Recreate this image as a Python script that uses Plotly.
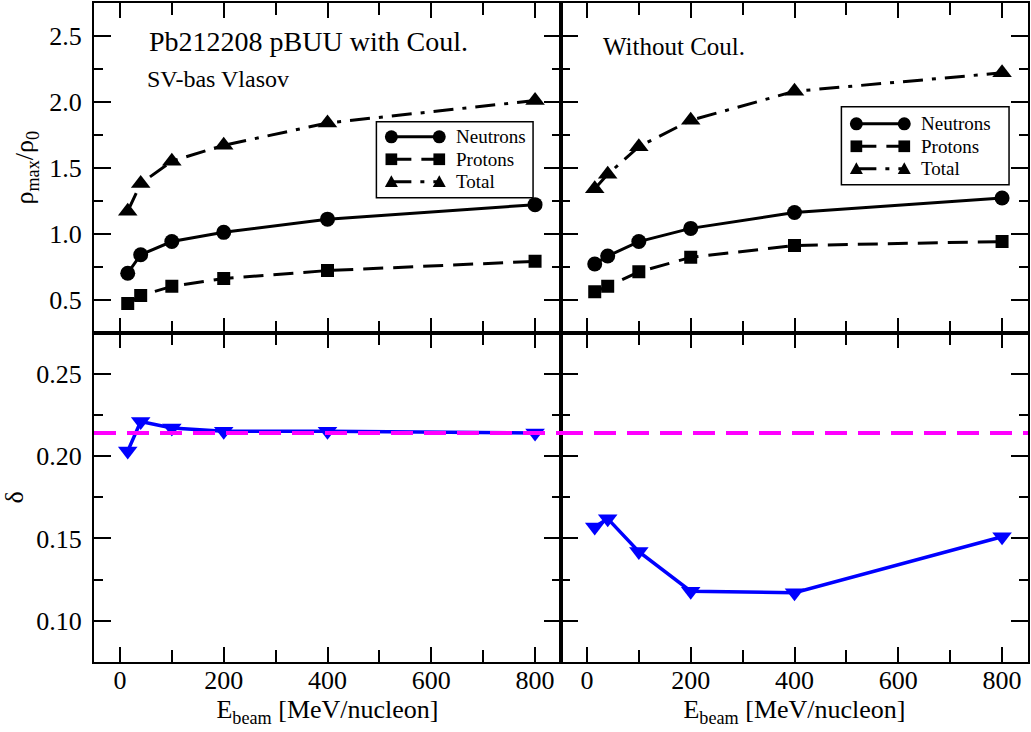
import plotly.graph_objects as go

# Beam energies [MeV/nucleon]
energy = [15, 40, 100, 200, 400, 800]

# Maximum density ratios, with Coulomb interaction
neutrons_coul = [0.70, 0.84, 0.94, 1.01, 1.11, 1.22]
protons_coul = [0.47, 0.53, 0.60, 0.66, 0.72, 0.79]
total_coul = [1.17, 1.38, 1.55, 1.67, 1.84, 2.01]

# Maximum density ratios, without Coulomb interaction
neutrons_nocoul = [0.77, 0.83, 0.94, 1.04, 1.16, 1.27]
protons_nocoul = [0.56, 0.60, 0.71, 0.82, 0.91, 0.94]
total_nocoul = [1.34, 1.45, 1.66, 1.86, 2.08, 2.22]

# Isospin asymmetry delta
delta_coul = [0.203, 0.221, 0.217, 0.215, 0.215, 0.214]
delta_nocoul = [0.157, 0.162, 0.142, 0.118, 0.117, 0.151]
delta_ref = 0.214

series_names = ["Neutrons", "Protons", "Total"]

FONT = "Liberation Serif"
W, H = 1031, 732
ML, MR, MT, MB = 94, 1, 2, 70
PW, PH = W - ML - MR, H - MT - MB

BLACK_DASH = {"Neutrons": "solid", "Protons": "20px,10px", "Total": "20px,9px,4px,9px"}
SYMBOL = {"Neutrons": "circle", "Protons": "square", "Total": "triangle-up"}
MSIZE = {"Neutrons": 15, "Protons": 13, "Total": 17}

fig = go.Figure()


def add_density(xa, ya, values):
    for name, vals in zip(series_names, values):
        fig.add_trace(go.Scatter(
            x=energy, y=vals, xaxis=xa, yaxis=ya, name=name, showlegend=False,
            mode="lines+markers",
            line=dict(color="black", width=3, dash=BLACK_DASH[name]),
            marker=dict(symbol=SYMBOL[name], size=MSIZE[name], color="black"),
        ))


def add_delta(xa, ya, vals):
    fig.add_trace(go.Scatter(
        x=energy, y=vals, xaxis=xa, yaxis=ya, showlegend=False,
        mode="lines+markers",
        line=dict(color="#0000ff", width=3.5),
        marker=dict(symbol="triangle-down", size=17, color="#0000ff"),
    ))


add_density("x", "y", [neutrons_coul, protons_coul, total_coul])
add_density("x2", "y2", [neutrons_nocoul, protons_nocoul, total_nocoul])
add_delta("x3", "y3", delta_coul)
add_delta("x4", "y4", delta_nocoul)

tickfont = dict(family=FONT, size=26, color="black")


def axis_style(**kw):
    d = dict(showline=True, linecolor="black", linewidth=2, mirror="allticks",
             ticks="inside", tickwidth=2, tickcolor="black",
             showgrid=False, zeroline=False, tickfont=tickfont)
    d.update(kw)
    return d


def xaxis(domain, anchor, labels):
    return axis_style(domain=domain, anchor=anchor, range=[-50, 850], dtick=200, tick0=0,
                      ticklen=15, showticklabels=labels, ticklabelstandoff=-6,
                      minor=dict(ticks="inside", ticklen=12, tickwidth=2,
                                 tickcolor="black", dtick=100, showgrid=False))


def yaxis(domain, anchor, rng, dtick, mdtick, fmt, labels):
    return axis_style(domain=domain, anchor=anchor, range=rng, dtick=dtick, tick0=0,
                      ticklen=17, showticklabels=labels, tickformat=fmt,
                      ticklabelstandoff=5,
                      minor=dict(ticks="inside", ticklen=9, tickwidth=2,
                                 tickcolor="black", dtick=mdtick, showgrid=False))


title_font = dict(family=FONT, size=26, color="black")

fig.update_layout(
    width=W, height=H,
    margin=dict(l=ML, r=MR, t=MT, b=MB),
    paper_bgcolor="white", plot_bgcolor="white",
    showlegend=False,
    xaxis=xaxis([0, 0.5], "y", False),
    xaxis2=xaxis([0.5, 1], "y2", False),
    xaxis3=xaxis([0, 0.5], "y3", True),
    xaxis4=xaxis([0.5, 1], "y4", True),
    yaxis=yaxis([0.5, 1], "x", [0.25, 2.75], 0.5, 0.25, ".1f", True),
    yaxis2=yaxis([0.5, 1], "x2", [0.25, 2.75], 0.5, 0.25, ".1f", False),
    yaxis3=yaxis([0, 0.5], "x3", [0.075, 0.275], 0.05, 0.025, ".2f", True),
    yaxis4=yaxis([0, 0.5], "x4", [0.075, 0.275], 0.05, 0.025, ".2f", False),
)

xtitle = "E<sub>beam</sub> [MeV/nucleon]"
fig.layout.xaxis3.title = dict(text=xtitle, font=title_font, standoff=5)
fig.layout.xaxis4.title = dict(text=xtitle, font=title_font, standoff=5)
fig.layout.yaxis.title = dict(text="ρ<sub>max</sub>/ρ<sub>0</sub>", font=title_font, standoff=8)
fig.layout.yaxis3.title = dict(text="δ", font=title_font, standoff=14)

# Reference asymmetry line in both lower panels
for xa, ya in (("x3", "y3"), ("x4", "y4")):
    fig.add_shape(type="line", xref=f"{xa} domain", yref=ya, x0=0, x1=1,
                  y0=delta_ref, y1=delta_ref,
                  line=dict(color="#ff00ff", width=4, dash="22px,11px"))


def px_x(p):
    return (p - ML) / PW


def px_y(p):
    return (H - MB - p) / PH


def marker_shape(symbol, cx, cy, r):
    base = dict(xref="paper", yref="paper", xsizemode="pixel", ysizemode="pixel",
                xanchor=px_x(cx), yanchor=px_y(cy),
                fillcolor="black", line=dict(color="black", width=0))
    if symbol == "circle":
        return dict(type="circle", x0=-r, x1=r, y0=-r, y1=r, **base)
    if symbol == "square":
        s = r * 0.9
        return dict(type="rect", x0=-s, x1=s, y0=-s, y1=s, **base)
    return dict(type="path", path=f"M {-r},{-0.8 * r} L {r},{-0.8 * r} L 0,{r} Z", **base)


def draw_legend(box, rows_y, mx0, mx1, tx):
    x0, y0, x1, y1 = box
    fig.add_shape(type="rect", xref="paper", yref="paper",
                  x0=px_x(x0), x1=px_x(x1), y0=px_y(y1), y1=px_y(y0),
                  line=dict(color="black", width=1.5), fillcolor="white", layer="above")
    for name, ry in zip(series_names, rows_y):
        fig.add_shape(type="line", xref="paper", yref="paper",
                      x0=px_x(mx0), x1=px_x(mx1), y0=px_y(ry), y1=px_y(ry),
                      line=dict(color="black", width=3, dash=BLACK_DASH[name]))
        for mx in (mx0, mx1):
            fig.add_shape(marker_shape(SYMBOL[name], mx, ry, 6.5))
        fig.add_annotation(xref="paper", yref="paper", x=px_x(tx), y=px_y(ry),
                           xanchor="left", yanchor="middle", showarrow=False,
                           text=name, font=dict(family=FONT, size=19, color="black"))


draw_legend((377, 121, 534, 197), (136, 158.5, 181), 392, 440, 455)
draw_legend((843, 106, 1011, 184), (123, 145.5, 168), 858, 906, 921)

# Panel labels
fig.add_annotation(xref="paper", yref="paper", x=px_x(147), y=px_y(41),
                   xanchor="left", yanchor="middle", showarrow=False,
                   text="Pb212208 pBUU with Coul.",
                   font=dict(family=FONT, size=28, color="black"))
fig.add_annotation(xref="paper", yref="paper", x=px_x(145), y=px_y(78),
                   xanchor="left", yanchor="middle", showarrow=False,
                   text="SV-bas Vlasov",
                   font=dict(family=FONT, size=24, color="black"))
fig.add_annotation(xref="paper", yref="paper", x=px_x(602), y=px_y(46),
                   xanchor="left", yanchor="middle", showarrow=False,
                   text="Without Coul.",
                   font=dict(family=FONT, size=25, color="black"))

fig.write_html("out.html")
